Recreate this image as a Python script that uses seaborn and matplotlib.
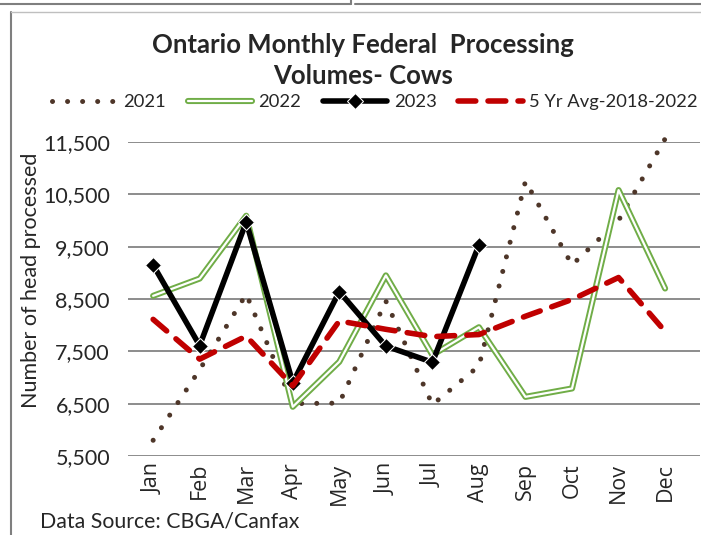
import numpy as np
import pandas as pd
import matplotlib.pyplot as plt
import matplotlib.patheffects as pe
from matplotlib.lines import Line2D
import seaborn as sns

months = ['Jan', 'Feb', 'Mar', 'Apr', 'May', 'Jun', 'Jul', 'Aug', 'Sep', 'Oct', 'Nov', 'Dec']
v2021 = [5800, 7150, 8590, 6500, 6510, 8460, 6480, 7220, 10750, 9150, 10000, 11560]
v2022 = [8560, 8890, 10090, 6440, 7300, 8950, 7430, 7960, 6630, 6790, 10580, 8700]
v2023 = [9150, 7610, 9970, 6900, 8640, 7600, 7290, 9530]
vavg = [8110, 7350, 7790, 6840, 8080, 7920, 7780, 7820, 8170, 8490, 8910, 7880]
yticks = [5500, 6500, 7500, 8500, 9500, 10500, 11500]

sns.set_style('white')
plt.rcParams['font.family'] = ['Lato', 'DejaVu Sans']

fig = plt.figure(figsize=(7.01, 5.35), dpi=100)
ax = fig.add_axes([0.1826, 0.1477, 0.816, 0.587])

sns.lineplot(x=months, y=v2021, ax=ax, color='#4e3629', lw=3.6, sort=False, clip_on=False,
             linestyle=(0, (0.01, 3.0)), dash_capstyle='round', label='2021')
sns.lineplot(x=months, y=v2022, ax=ax, color='white', lw=1.6, sort=False, label='2022',
             path_effects=[pe.Stroke(linewidth=4.4, foreground='#70ad47'), pe.Normal()])
sns.lineplot(x=months[:len(v2023)], y=v2023, ax=ax, color='black', lw=4, sort=False,
             marker='D', markersize=8, label='2023')
sns.lineplot(x=months, y=vavg, ax=ax, color='#c00000', lw=4, sort=False,
             linestyle=(0, (3.2, 2.2)), dash_capstyle='round', label='5 Yr Avg-2018-2022')

ax.set_ylim(5500, 11500)
ax.set_xlim(-0.54, 11.75)
ax.set_yticks(yticks)
ax.set_yticklabels([f'{t:,}' for t in yticks], fontsize=15.5)
ax.yaxis.grid(True, color='#8c8c8c', lw=1.4)
ax.set_axisbelow(True)
for s in ax.spines.values():
    s.set_visible(False)
ax.tick_params(axis='x', labelrotation=90, length=0, pad=5)
for lab in ax.get_xticklabels():
    lab.set_family(['Open Sans', 'DejaVu Sans'])
    lab.set_fontsize(15.5)
ax.tick_params(axis='y', length=0, pad=13)
ax.set_ylabel('Number of head processed', fontsize=15.5)
ax.yaxis.set_label_coords(-0.152, 0.56)
ax.set_xlabel('')

ax.legend(loc='center', bbox_to_anchor=(0.535, 0.809), bbox_transform=fig.transFigure,
          ncol=4, frameon=False, fontsize=13.2, handlelength=3.5, columnspacing=1.2,
          handletextpad=0.35, borderaxespad=0, borderpad=0)

fig.text(0.518, 0.915, 'Ontario Monthly Federal  Processing', ha='center', va='center',
         fontsize=18.5, fontweight='bold')
fig.text(0.518, 0.858, 'Volumes- Cows', ha='center', va='center',
         fontsize=18.5, fontweight='bold')
fig.text(0.057, 0.026, 'Data Source: CBGA/Canfax', ha='left', va='center', fontsize=15.3)

# screenshot frame lines
fig.add_artist(Line2D([0.015, 0.015], [0, 0.978], color='#7f7f7f', lw=1.5, transform=fig.transFigure))
fig.add_artist(Line2D([0.015, 1], [0.978, 0.978], color='#bfbfbf', lw=1, transform=fig.transFigure))
fig.add_artist(Line2D([0, 0.5], [0.993, 0.993], color='#7f7f7f', lw=1.5, transform=fig.transFigure))
fig.add_artist(Line2D([0.5, 0.5], [0.993, 1], color='#7f7f7f', lw=1.5, transform=fig.transFigure))
fig.add_artist(Line2D([0.507, 1], [0.993, 0.993], color='#7f7f7f', lw=1.5, transform=fig.transFigure))

fig.savefig('out.png', dpi=100)
